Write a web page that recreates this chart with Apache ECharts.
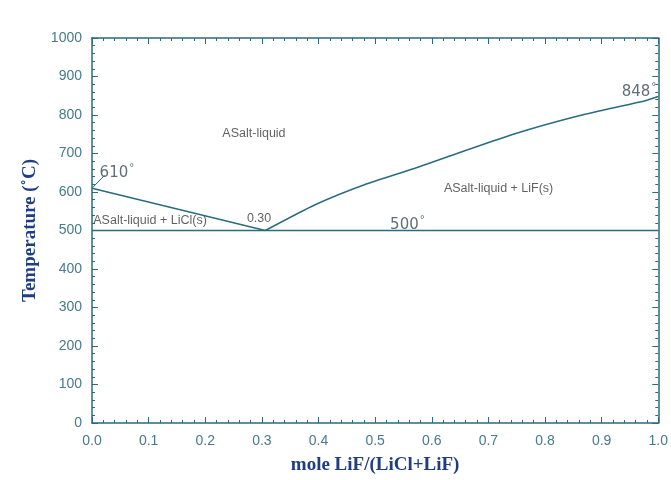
<!DOCTYPE html>
<html>
<head>
<meta charset="utf-8">
<script src="https://cdn.jsdelivr.net/npm/echarts@6/dist/echarts.min.js"></script>
<style>html,body{margin:0;padding:0;background:#fff;}#c{width:671px;height:480px;}</style>
</head>
<body>
<div id="c"></div>
<script>
// ---- data ----
const xTickLabels = ['0.0','0.1','0.2','0.3','0.4','0.5','0.6','0.7','0.8','0.9','1.0'];
const yTickLabels = ['0','100','200','300','400','500','600','700','800','900','1000'];
const leftLiquidusX = [0, 0.306];
const leftLiquidusT = [610, 500];
const rightLiquidusX = [0.306, 0.394, 0.481, 0.569, 0.627, 0.744, 0.860, 0.977, 1.0];
const rightLiquidusT = [500, 567, 619, 661, 691, 750, 798, 837, 848];
const eutecticX = [0, 1];
const eutecticT = [500, 500];
const leaderX = [0, 0.022];
const leaderT = [610, 643];
const regionNames = ['ASalt-liquid', 'ASalt-liquid + LiF(s)', 'ASalt-liquid + LiCl(s)'];
const regionX = [0.286, 0.718, 0.1025];
const regionT = [751, 610, 526];
const pointNames = ['610', '848', '500', '0.30'];
const pointX = [0.044, 0.966, 0.557, 0.295];
const pointT = [649, 859, 513, 531];
const pointDeg = [true, true, true, false];

const lineColor = '#2b6b7e';
const zip = (xs, ys) => xs.map((x, i) => [x, ys[i]]);

const chart = echarts.init(document.getElementById('c'));
const axisCommon = () => ({
  axisLine: {show: true, onZero: false, lineStyle: {color: lineColor, width: 1.5}},
  axisTick: {show: true, inside: true, length: 6, lineStyle: {color: lineColor}},
  minorTick: {show: true, splitNumber: 5, length: 3, lineStyle: {color: lineColor}},
  splitLine: {show: false}
});
const titleStyle = {fontFamily: 'Liberation Serif', fontWeight: 'bold', fontSize: 19, color: '#1f3d80'};
const tickStyle = {fontFamily: 'Liberation Sans', fontSize: 14, color: '#467a8c'};
chart.setOption({
  animation: false,
  backgroundColor: '#fff',
  grid: {left: 92, right: 8, top: 38, bottom: 51},
  xAxis: [
    Object.assign(axisCommon(), {
      type: 'value', min: 0, max: 1, interval: 0.1, position: 'bottom',
      name: 'mole LiF/(LiCl+LiF)', nameLocation: 'middle', nameGap: 33,
      nameTextStyle: titleStyle,
      axisLabel: Object.assign({margin: 11, formatter: (v) => xTickLabels[Math.round(v * 10)]}, tickStyle)
    }),
    Object.assign(axisCommon(), {
      type: 'value', min: 0, max: 1, interval: 0.1, position: 'top',
      axisLabel: {show: false}
    })
  ],
  yAxis: [
    Object.assign(axisCommon(), {
      type: 'value', min: 0, max: 1000, interval: 100, position: 'left',
      name: 'Temperature (˚C)', nameLocation: 'middle', nameGap: 46,
      nameTextStyle: titleStyle,
      axisLabel: Object.assign({margin: 10, formatter: (v) => yTickLabels[Math.round(v / 100)]}, tickStyle)
    }),
    Object.assign(axisCommon(), {
      type: 'value', min: 0, max: 1000, interval: 100, position: 'right',
      axisLabel: {show: false}
    })
  ],
  series: [
    {type: 'line', data: zip(leftLiquidusX, leftLiquidusT), symbol: 'none', lineStyle: {color: lineColor, width: 1.5}},
    {type: 'line', data: zip(rightLiquidusX, rightLiquidusT), symbol: 'none', smooth: 0.2, lineStyle: {color: lineColor, width: 1.5}},
    {type: 'line', data: zip(eutecticX, eutecticT), symbol: 'none', lineStyle: {color: lineColor, width: 1.5}},
    {type: 'line', data: zip(leaderX, leaderT), symbol: 'none', lineStyle: {color: lineColor, width: 1}},
    {type: 'scatter', symbolSize: 0, silent: true,
      data: regionNames.map((n, i) => ({name: n, value: [regionX[i], regionT[i]]})),
      label: {show: true, position: 'inside', formatter: (p) => p.name,
        fontFamily: 'Liberation Sans', fontSize: 12.5, color: '#3a3a3a'}},
    {type: 'scatter', symbolSize: 0, silent: true,
      data: pointNames.map((n, i) => ({name: n, value: [pointX[i], pointT[i]]})),
      label: {show: true, position: 'inside',
        formatter: (p) => pointDeg[p.dataIndex] ? '{n|' + p.name + '}{d|°}' : '{s|' + p.name + '}',
        rich: {
          n: {fontFamily: 'DejaVu Sans', fontSize: 15, color: '#3a4a55'},
          s: {fontFamily: 'Liberation Sans', fontSize: 12.5, color: '#3a3a3a'},
          d: {fontFamily: 'DejaVu Sans', fontSize: 10, color: '#3a4a55', verticalAlign: 'top', padding: [0, 0, 10, 1]}
        }}}
  ]
});
</script>
</body>
</html>
